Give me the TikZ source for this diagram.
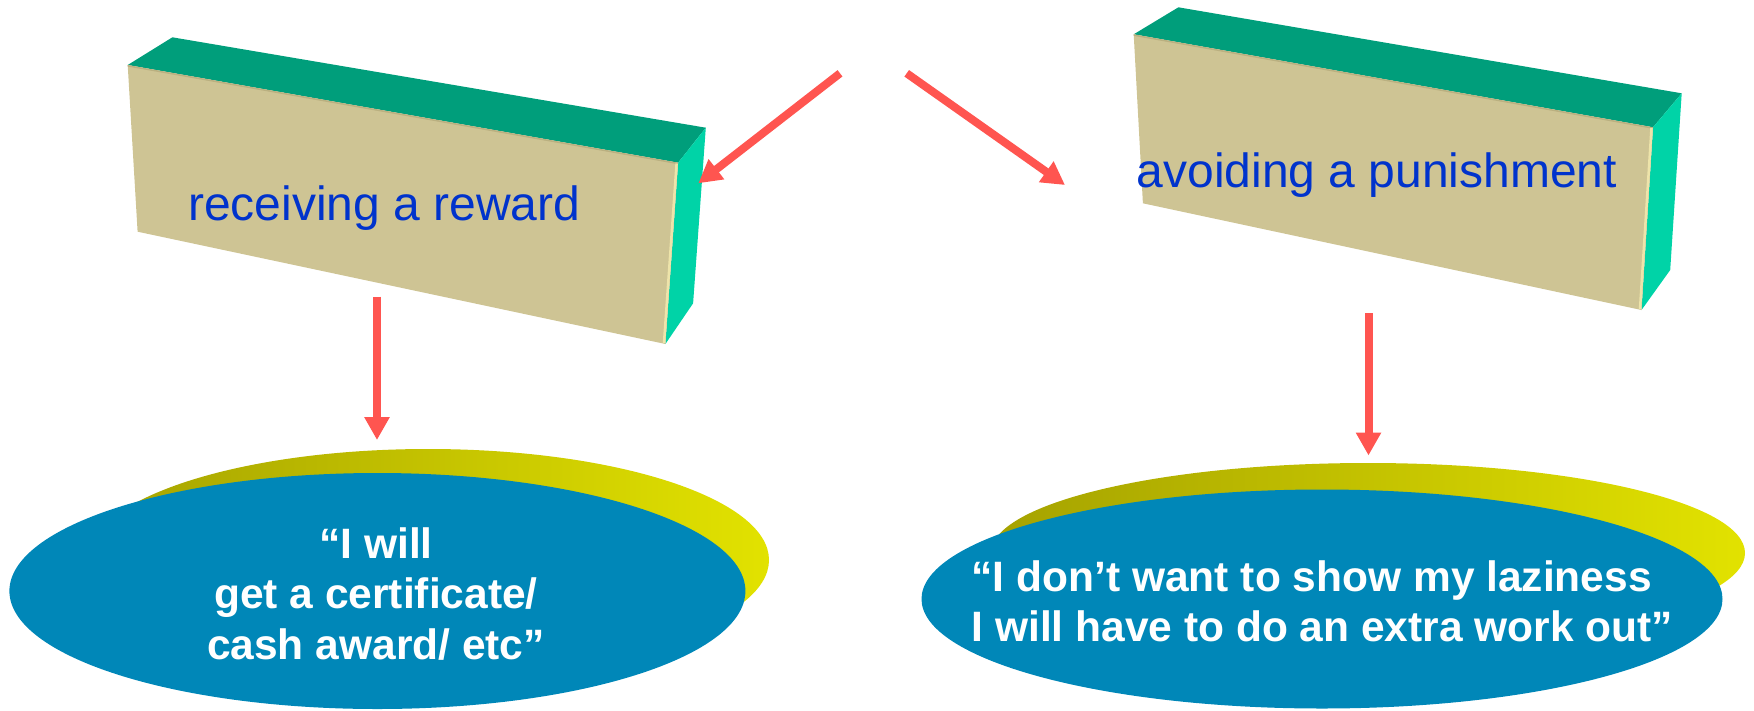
\documentclass[tikz,border=0pt]{standalone}
\usepackage{fontspec}
\setmainfont{Liberation Sans}
\usetikzlibrary{arrows.meta}
\definecolor{topface}{RGB}{0,158,123}
\definecolor{sideface}{RGB}{0,211,167}
\definecolor{frontface}{RGB}{206,196,148}
\definecolor{edgelight}{RGB}{238,228,170}
\definecolor{edgedark}{RGB}{186,176,128}
\definecolor{labelblue}{RGB}{0,51,204}
\definecolor{discblue}{RGB}{0,135,184}
\definecolor{arrowred}{RGB}{255,85,80}
\definecolor{olivedark}{RGB}{152,148,0}
\definecolor{olivemid}{RGB}{165,162,0}
\definecolor{brightyel}{RGB}{226,226,0}
\begin{document}
\begin{tikzpicture}[x=1pt,y=-1pt,
  redarrow/.style={draw=arrowred, line width=8pt, -{Triangle[length=23pt,width=24pt]}},
  toplabel/.style={inner sep=0pt, text=labelblue, font=\fontsize{48pt}{56pt}\selectfont},
  disclabel/.style={inner sep=0pt, text=white, font=\fontsize{42.5pt}{50.5pt}\selectfont\bfseries},
  rim/.style={left color=olivemid, middle color=olivedark, right color=brightyel},
  disc/.style={fill=discblue}]
\useasboundingbox (0,0) rectangle (1754,710);

% ---- left box ----
\fill[topface] (172.4,37.3) -- (705.8,127.7) -- (678.1,162.7) -- (127.7,65) -- cycle;
\fill[sideface] (705.8,127.7) -- (693.1,303.3) -- (665.4,344) -- (678.1,162.7) -- cycle;
\fill[frontface] (127.7,65) -- (678.1,162.7) -- (665.4,344) -- (137.6,231.7) -- cycle;
\draw[edgedark, line width=1.5pt] (127.7,65.8) -- (678.1,163.5);
\draw[edgelight, line width=2.5pt] (676.6,163.5) -- (664,343);

% ---- right box ----
\fill[topface] (1178.4,7.3) -- (1681.7,93.3) -- (1653,127.3) -- (1133.7,34.3) -- cycle;
\fill[sideface] (1681.7,93.3) -- (1670.2,270) -- (1641.5,310) -- (1653,127.3) -- cycle;
\fill[frontface] (1133.7,34.3) -- (1653,127.3) -- (1641.5,310) -- (1142.9,203.3) -- cycle;
\draw[edgedark, line width=1.5pt] (1133.7,35.1) -- (1653,128.1);
\draw[edgelight, line width=2.5pt] (1651.5,128) -- (1640,309);

\node[toplabel, anchor=base west] (lbl1) at (188,220) {receiving a reward};
\node[toplabel, anchor=base west] (lbl2) at (1136.5,187.3) {avoiding a punishment};

% ---- discs ----
\path[rim] (428,560) ellipse [x radius=341, y radius=111];
\path[disc] (377.4,591) ellipse [x radius=368, y radius=118];
\path[rim] (1368,553) ellipse [x radius=377, y radius=90];
\path[disc] (1322,599) ellipse [x radius=400.5, y radius=109.5];

\node[disclabel, align=center, anchor=base] (q1) at (376,659) {“I will\\get a certificate/\\cash award/ etc”};
\node[disclabel, align=left, anchor=base west] (q2) at (971.5,641.7) {“I don’t want to show my laziness\\I will have to do an extra work out”};

% ---- arrows ----
\coordinate (a1s) at (840,73.3);
\coordinate (a1e) at (698.3,183.3);
\coordinate (a2s) at (906.7,73.3);
\coordinate (a2e) at (1065,185);
\coordinate (a3s) at (377,296.5);
\coordinate (a3e) at (377,440);
\coordinate (a4s) at (1368.5,313);
\coordinate (a4e) at (1368.5,455.5);
\draw[redarrow] (a1s) -- (a1e);
\draw[redarrow] (a2s) -- (a2e);
\draw[redarrow] (a3s) -- (a3e);
\draw[redarrow] (a4s) -- (a4e);
\end{tikzpicture}
\end{document}
